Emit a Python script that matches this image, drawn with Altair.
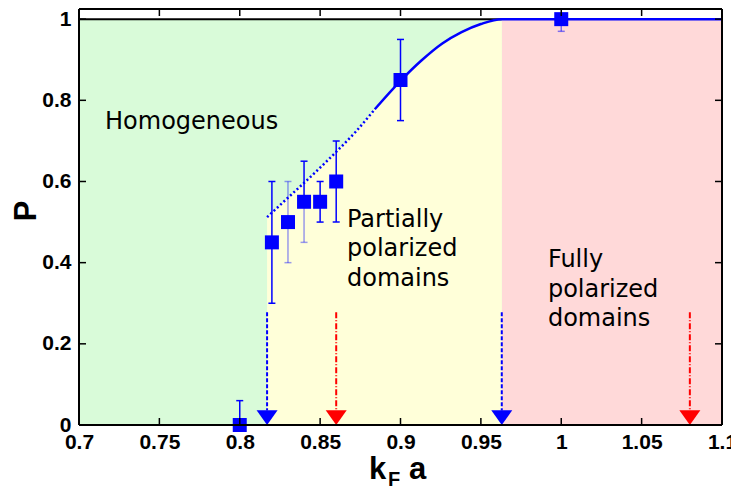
import altair as alt
import pandas as pd

# ---------------- data ----------------
pt_x = [0.80, 0.82, 0.83, 0.84, 0.85, 0.86, 0.90, 1.00]
pt_p = [0.00, 0.45, 0.50, 0.55, 0.55, 0.60, 0.85, 1.00]
err_lo = [0.00, 0.30, 0.40, 0.45, 0.50, 0.50, 0.75, 0.97]
err_hi = [0.06, 0.60, 0.60, 0.65, 0.60, 0.70, 0.95, 1.00]
lo_alpha = [1, 1, 0.4, 0.4, 1, 1, 1, 0.5]
hi_alpha = [1, 1, 0.4, 1, 1, 1, 1, 1]

dot_x = [0.817, 0.830, 0.845, 0.860, 0.872, 0.884]
dot_p = [0.512, 0.560, 0.615, 0.673, 0.722, 0.778]
sol_x = [0.884, 0.900, 0.913, 0.926, 0.938, 0.950, 0.963, 1.100]
sol_p = [0.778, 0.848, 0.898, 0.940, 0.968, 0.988, 1.000, 1.000]

green_x = [0.70, 0.963]
red_x = [0.963, 1.10]
region_p = [0.0, 1.0]

blue_arrow_x = [0.817, 0.963]
red_arrow_x = [0.86, 1.08]
arrow_top = 0.278
arrow_base = 0.036

labels = ["Homogeneous", "Partially\npolarized\ndomains", "Fully\npolarized\ndomains"]
label_x = [0.7162, 0.8667, 0.9917]
label_p = [0.730, 0.489, 0.389]

x_ticks = [0.7, 0.75, 0.8, 0.85, 0.9, 0.95, 1.0, 1.05, 1.1]
y_ticks = [0.0, 0.2, 0.4, 0.6, 0.8, 1.0]

# ---------------- layout ----------------
W, H = 643, 416
TL = 7
BLUE = "#0000ff"
RED = "#ff0000"

xscale = alt.Scale(domain=[0.7, 1.1], nice=False, zero=False)
yscale = alt.Scale(domain=[0, 1.025], nice=False, zero=False)
xaxis = alt.Axis(values=x_ticks, format="~g", labelFont="Liberation Sans",
                 labelFontWeight="bold", labelFontSize=21, labelColor="black",
                 ticks=False, tickSize=0, domain=False, grid=False, title=None,
                 labelPadding=6, labelFlush=False, labelOverlap=False)
yaxis = alt.Axis(values=y_ticks, format="~g", labelFont="Liberation Sans",
                 labelFontWeight="bold", labelFontSize=21, labelColor="black",
                 ticks=False, tickSize=0, domain=False, grid=False, title=None,
                 labelPadding=8, labelFlush=False, labelOverlap=False)


def X(f):
    return alt.X(f, type="quantitative", scale=xscale, axis=xaxis)


def Y(f):
    return alt.Y(f, type="quantitative", scale=yscale, axis=yaxis)


one = pd.DataFrame({"d": [0]})

regions = pd.DataFrame({
    "x": [green_x[0], red_x[0]], "x2": [green_x[1], red_x[1]],
    "y": [region_p[0]] * 2, "y2": [region_p[1]] * 2,
    "c": ["g", "r"],
})
bg = alt.Chart(regions).mark_rect(strokeWidth=0).encode(
    x=X("x"), x2="x2", y=Y("y"), y2="y2",
    color=alt.Color("c:N", scale=alt.Scale(domain=["g", "r"], range=["#d9fbd9", "#ffd9d9"]), legend=None),
)

curve_all = pd.DataFrame({"x": dot_x + sol_x[1:-1], "p": dot_p + sol_p[1:-1]})
yellow = alt.Chart(curve_all).mark_area(color="#ffffd9", interpolate="monotone", opacity=1).encode(
    x=X("x"), y=Y("p"), y2=alt.Y2(datum=0)
)

top_black = alt.Chart(pd.DataFrame({"x": [green_x[0]], "x2": [green_x[1]], "p": [1.0]})).mark_rule(
    color="black", strokeWidth=2).encode(x=X("x"), x2="x2", y=Y("p"))

dotted = alt.Chart(pd.DataFrame({"x": dot_x, "p": dot_p})).mark_line(
    color=BLUE, strokeWidth=2.5, strokeDash=[2, 2.5], interpolate="monotone").encode(x=X("x"), y=Y("p"))
solid = alt.Chart(pd.DataFrame({"x": sol_x, "p": sol_p})).mark_line(
    color=BLUE, strokeWidth=2.5, interpolate="monotone").encode(x=X("x"), y=Y("p"))

pts = pd.DataFrame({"x": pt_x, "p": pt_p, "lo": err_lo, "hi": err_hi,
                    "la": lo_alpha, "ha": hi_alpha})
err_low = alt.Chart(pts).mark_rule(color=BLUE, strokeWidth=1.5).encode(
    x=X("x"), y=Y("lo"), y2="p", opacity=alt.Opacity("la:Q", scale=None, legend=None))
err_up = alt.Chart(pts).mark_rule(color=BLUE, strokeWidth=1.5).encode(
    x=X("x"), y=Y("p"), y2="hi", opacity=alt.Opacity("ha:Q", scale=None, legend=None))
cap_low = alt.Chart(pts).mark_tick(color=BLUE, orient="horizontal", size=7, thickness=1.5).encode(
    x=X("x"), y=Y("lo"), opacity=alt.Opacity("la:Q", scale=None, legend=None))
cap_up = alt.Chart(pts).mark_tick(color=BLUE, orient="horizontal", size=7, thickness=1.5).encode(
    x=X("x"), y=Y("hi"), opacity=alt.Opacity("ha:Q", scale=None, legend=None))
squares = alt.Chart(pts).mark_square(color=BLUE, size=196, filled=True, opacity=1).encode(
    x=X("x"), y=Y("p"))

arrows = pd.DataFrame({
    "x": blue_arrow_x + red_arrow_x,
    "top": [arrow_top] * 4, "base": [arrow_base] * 4, "tip": [0.0] * 4,
    "c": ["b", "b", "r", "r"],
})
blue_lines = alt.Chart(arrows[arrows.c == "b"]).mark_rule(color=BLUE, strokeWidth=2, strokeDash=[4, 2]).encode(
    x=X("x"), y=Y("top"), y2="base")
red_lines = alt.Chart(arrows[arrows.c == "r"]).mark_rule(color=RED, strokeWidth=2, strokeDash=[6, 2, 1, 2]).encode(
    x=X("x"), y=Y("top"), y2="base")
heads = alt.Chart(arrows).mark_point(shape="M-1,-1.4L1,-1.4L0,0Z", size=441, filled=True, opacity=1).encode(
    x=X("x"), y=Y("tip"),
    color=alt.Color("c:N", scale=alt.Scale(domain=["b", "r"], range=[BLUE, RED]), legend=None))

txt = alt.Chart(pd.DataFrame({"t": labels, "x": label_x, "p": label_p})).mark_text(
    align="left", baseline="alphabetic", font="DejaVu Sans", fontSize=24, lineHeight=29.5,
    lineBreak="\n", color="black").encode(x=X("x"), y=Y("p"), text="t:N")

xt = pd.DataFrame({"v": x_ticks})
yt = pd.DataFrame({"v": y_ticks})
tick_b = alt.Chart(xt).mark_rule(color="black", strokeWidth=1.5).encode(
    x=X("v"), y=alt.value(H), y2=alt.value(H - TL))
tick_t = alt.Chart(xt).mark_rule(color="black", strokeWidth=1.5).encode(
    x=X("v"), y=alt.value(0), y2=alt.value(TL))
tick_l = alt.Chart(yt).mark_rule(color="black", strokeWidth=1.5).encode(
    y=Y("v"), x=alt.value(0), x2=alt.value(TL))
tick_r = alt.Chart(yt).mark_rule(color="black", strokeWidth=1.5).encode(
    y=Y("v"), x=alt.value(W - TL), x2=alt.value(W))

frame = [
    alt.Chart(one).mark_rule(color="black", strokeWidth=2).encode(x=alt.value(0), x2=alt.value(W), y=alt.value(H)),
    alt.Chart(one).mark_rule(color="black", strokeWidth=2).encode(x=alt.value(0), x2=alt.value(W), y=alt.value(0)),
    alt.Chart(one).mark_rule(color="black", strokeWidth=2).encode(y=alt.value(0), y2=alt.value(H), x=alt.value(0)),
    alt.Chart(one).mark_rule(color="black", strokeWidth=2).encode(y=alt.value(0), y2=alt.value(H), x=alt.value(W)),
]

title_k = alt.Chart(one).mark_text(text="k", align="left", baseline="alphabetic", font="Liberation Sans",
                                   fontSize=31, fontWeight="bold", color="black").encode(
    x=alt.value(290), y=alt.value(470))
title_F = alt.Chart(one).mark_text(text="F", align="left", baseline="alphabetic", font="Liberation Sans",
                                   fontSize=20, fontWeight="bold", color="black").encode(
    x=alt.value(309), y=alt.value(477))
title_a = alt.Chart(one).mark_text(text="a", align="left", baseline="alphabetic", font="Liberation Sans",
                                   fontSize=31, fontWeight="bold", color="black").encode(
    x=alt.value(330), y=alt.value(470))
title_P = alt.Chart(one).mark_text(text="P", align="center", baseline="middle", font="Liberation Sans",
                                   fontSize=31, fontWeight="bold", color="black", angle=270).encode(
    x=alt.value(-52), y=alt.value(202))

chart = alt.layer(
    bg, yellow, top_black, dotted, solid, err_low, err_up, cap_low, cap_up, squares,
    blue_lines, red_lines, heads, txt, tick_b, tick_t, tick_l, tick_r, *frame,
    title_k, title_F, title_a, title_P,
).resolve_scale(color="independent").properties(
    width=W, height=H,
    autosize=alt.AutoSizeParams(type="none"),
    padding={"left": 71, "top": 1, "right": 9, "bottom": 64},
).configure_view(stroke="transparent")

chart.save("out.html", embed_options={"renderer": "svg", "actions": False})
